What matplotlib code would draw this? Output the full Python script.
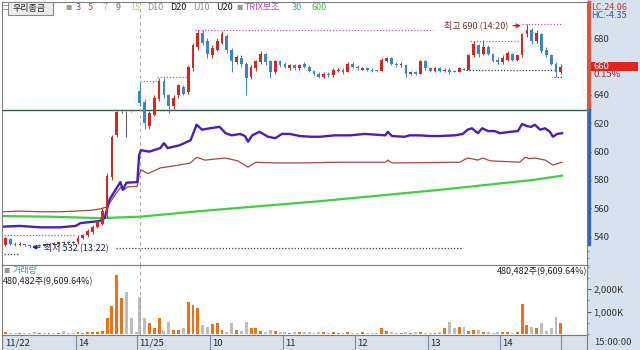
import matplotlib
matplotlib.use("Agg")
import matplotlib.pyplot as plt
import matplotlib.transforms as mtrans
from matplotlib.lines import Line2D
from matplotlib.patches import Rectangle
from matplotlib.ticker import MultipleLocator
import numpy as np

plt.rcParams['font.family'] = ['Noto Sans CJK KR', 'DejaVu Sans']

W, H = 640, 350


def t1(h, m):   # 11/22 장중 분 (13:00 = 0)
    return (h - 13) * 60 + m


def t2(h, m):   # 11/25 장중 분 (11/22 뒤에 이어붙임)
    return 111 + (h - 9) * 60 + m


def fx(px):
    return px / W


def fy(py):
    return 1 - py / H


# ---- 4분봉 : 11/22 (13:00 ~) ----
d1_open = [534, 538, 535, 534, 535, 534, 533, 533, 534, 534,
           535, 535, 536, 536, 536, 536, 539, 541, 543, 547,
           549, 556, 582, 612, 629, 629, 629, 629]
d1_high = [540, 539, 536, 536, 535, 534, 534, 535, 535, 535,
           536, 536, 537, 537, 537, 541, 542, 545, 548, 552,
           560, 585, 612, 629, 629, 629, 629, 629]
d1_low = [533, 534, 533, 533, 533, 532, 532, 533, 533, 533,
          534, 534, 535, 535, 535, 535, 538, 540, 542, 546,
          548, 553, 580, 610, 627, 610, 628, 629]
d1_close = [539, 535, 534, 535, 534, 533, 533, 534, 534, 535,
            535, 536, 536, 536, 536, 539, 541, 544, 547, 551,
            558, 583, 610, 628, 629, 629, 629, 629]

# ---- 4분봉 : 11/25 (09:00 ~) ----
d2_open = [643, 635, 618, 626, 637, 650, 640, 632, 640, 646,
           642, 659, 674, 684, 678, 668, 672, 677, 682, 672,
           663, 666, 662, 653, 659, 663, 669, 664, 656, 664,
           662, 659, 661, 659, 662, 660, 657, 655, 653, 655,
           654, 657, 658, 656, 662, 660, 658, 659, 658, 658,
           657, 664, 666, 662, 661, 661, 655, 656, 655, 664,
           659, 657, 659, 657, 658, 657, 656, 658, 658, 668,
           675, 669, 674, 669, 665, 663, 665, 669, 665, 668,
           683, 686, 678, 683, 672, 668, 662, 656]
d2_high = [649, 637, 629, 640, 652, 652, 641, 640, 648, 647,
           661, 677, 686, 686, 680, 675, 680, 685, 683, 673,
           668, 668, 663, 661, 665, 671, 670, 665, 665, 665,
           663, 662, 662, 662, 663, 661, 658, 656, 656, 656,
           659, 659, 659, 663, 663, 661, 660, 660, 659, 658,
           666, 667, 667, 663, 663, 662, 657, 657, 665, 665,
           660, 660, 660, 659, 659, 658, 660, 659, 669, 678,
           676, 679, 675, 670, 667, 668, 671, 670, 669, 684,
           690, 687, 686, 684, 674, 669, 663, 662]
d2_low = [632, 616, 616, 625, 636, 638, 627, 630, 638, 640,
          641, 657, 672, 675, 666, 666, 671, 676, 670, 656,
          662, 660, 640, 651, 657, 662, 661, 652, 655, 660,
          659, 658, 658, 658, 659, 656, 654, 652, 652, 653,
          653, 656, 655, 656, 659, 658, 658, 657, 656, 656,
          657, 663, 661, 660, 660, 653, 654, 654, 655, 658,
          656, 656, 656, 656, 655, 656, 656, 658, 658, 667,
          667, 668, 668, 663, 662, 662, 664, 664, 664, 667,
          681, 676, 677, 670, 667, 661, 653, 655]
d2_close = [634, 620, 627, 638, 650, 640, 632, 638, 647, 641,
            660, 675, 684, 677, 669, 673, 678, 683, 672, 664,
            667, 662, 652, 660, 664, 669, 663, 656, 664, 661,
            660, 661, 659, 661, 660, 657, 655, 653, 655, 654,
            658, 658, 656, 662, 660, 659, 659, 658, 657, 657,
            665, 666, 662, 661, 662, 655, 656, 655, 664, 659,
            657, 659, 657, 658, 656, 656, 659, 658, 668, 676,
            669, 674, 669, 664, 663, 666, 670, 665, 668, 683,
            686, 678, 684, 671, 668, 662, 656, 660]

# 거래량 (천주)
d1_vol = [90, 40, 30, 50, 40, 60, 80, 40, 30, 50,
          40, 60, 130, 40, 50, 70, 60, 90, 80, 110,
          150, 700, 1250, 2630, 1600, 1870, 700, 100]
d2_vol = [1650, 700, 470, 250, 700, 150, 550, 180, 180, 250,
          1450, 1300, 1150, 400, 330, 450, 470, 180, 100, 500,
          180, 150, 550, 250, 250, 150, 100, 180, 130, 80,
          70, 60, 90, 70, 80, 100, 60, 70, 80, 60,
          90, 60, 50, 80, 60, 50, 70, 60, 50, 60,
          270, 120, 80, 60, 50, 90, 60, 70, 100, 60,
          50, 60, 70, 250, 550, 250, 300, 300, 150, 200,
          200, 100, 80, 60, 70, 90, 80, 60, 70, 1340,
          400, 300, 250, 500, 150, 250, 750, 470]

# TRIX 보조선 (분, 값)
trix_main = [(0, 547), (14, 547.5), (31, 546.5), (47, 546.5), (60, 547.5), (64, 549.5),
             (80, 551), (84, 553), (88, 566), (93, 573), (97, 578.5), (99, 573),
             (102, 578), (111, 578.5), (112.5, 597.5), (114, 601), (121, 600), (130, 602.5),
             (133, 606), (136, 602.5), (146, 604.5), (155, 608), (160, 619), (164.5, 615.5),
             (171, 616.5), (179, 617.5), (184, 613), (189, 611.5), (196, 612.5), (200, 611),
             (202.5, 607), (206, 611.5), (212, 614), (219, 610.5), (225, 609.5), (230.5, 612.5),
             (237, 612.5), (245.5, 611), (254, 610.5), (262, 610.5), (274, 611.5), (287, 611.5),
             (299, 612.5), (316, 611.5), (318, 614), (321.5, 611), (332, 610.5), (336, 611.5),
             (344.5, 611.5), (353, 611), (361, 611), (373.5, 611.5), (380, 612.5), (384, 615.5),
             (387.5, 616.5), (392.5, 613), (396, 616.5), (401, 614.5), (406.5, 614.5), (410.5, 613),
             (419, 614), (425.5, 614.5), (429, 619.5), (433, 618), (436.5, 617.5), (439.5, 619),
             (444, 615.5), (448, 616.5), (452, 614), (454.5, 610.5), (458, 612.5), (462, 613)]
trix_sig = [(0, 557.5), (14, 558), (31, 557.5), (47, 557.5), (60, 558), (72, 558.5),
            (80, 559.5), (86, 561), (90, 566), (93.5, 570.5), (97, 574.5), (100, 573),
            (103, 575), (111, 575.5), (112.5, 583.5), (114, 587), (120, 584.5), (130, 588.5),
            (142, 590), (155, 592), (160, 596), (167, 594), (183.5, 595.5), (194, 593.5),
            (202.5, 589), (209, 592.5), (225, 592), (245.5, 592), (278.5, 592.5), (316, 592.5),
            (318, 594), (321.5, 592), (377.5, 592.5), (384, 595.5), (392.5, 594), (396.5, 595.5),
            (402.5, 593.5), (427, 592.5), (431.5, 596), (435.5, 595), (439.5, 595.5), (448, 594),
            (454.5, 590.5), (462, 592.5)]
trix_long = [(0, 554.5), (39, 554), (80, 553), (113, 554), (163, 558), (262, 565),
             (361, 573), (438, 580), (462, 583)]

base_price = 629.4
last_price = 660
hour_pos = [t1(13, 0), t1(14, 0), t2(9, 0), t2(10, 0), t2(11, 0), t2(12, 0), t2(13, 0), t2(14, 0)]
hour_lab = ['11/22', '14', '11/25', '10', '11', '12', '13', '14']
session_end = t2(14, 50)

RED = '#d8261c'
BLUE = '#3a86c8'
ORANGE = '#f07018'
GRAY = '#bdbdbd'
PANEL = '#d7e2ee'

o = np.array(d1_open + d2_open, float)
hi = np.array(d1_high + d2_high, float)
lo = np.array(d1_low + d2_low, float)
c = np.array(d1_close + d2_close, float)
vol = np.array(d1_vol + d2_vol, float)
x = np.concatenate([t1(13, 0) + 4 * np.arange(len(d1_open)) + 2,
                    t2(9, 0) + 4 * np.arange(len(d2_open)) + 2])

fig = plt.figure(figsize=(6.4, 3.5), dpi=100)
fig.add_artist(Rectangle((fx(587), 0), 1 - fx(587), 1, transform=fig.transFigure,
                         facecolor=PANEL, edgecolor='none', zorder=-1))

XL = ((2 - 3) / 1.21, (587 - 3) / 1.21)

# ---------- 가격 ----------
ax = fig.add_axes([fx(2), fy(265), fx(587) - fx(2), fy(2) - fy(265)])
ax.set_xlim(XL)
ax.set_ylim(519.9, 705.7)
for s in ax.spines.values():
    s.set_color('#808080')
    s.set_linewidth(0.8)
ax.set_xticks([])
ax.yaxis.tick_right()
ax.set_yticks([540, 560, 580, 600, 620, 640, 680])
ax.yaxis.set_minor_locator(MultipleLocator(5))
ax.tick_params(axis='y', which='major', length=3, width=0.7, color='#555555',
               pad=1.5, labelsize=6.8, labelcolor='#333333')
ax.tick_params(axis='y', which='minor', length=1.5, width=0.6, color='#777777')

ax.axhline(base_price, color='#2d5a4b', lw=1, zorder=1)
ax.axvline(t2(9, 2), color='#a8a8a8', lw=0.8, ls=(0, (3, 3)), zorder=1)

tm, vm = zip(*trix_main)
ts, vs = zip(*trix_sig)
tl, vl = zip(*trix_long)
ax.plot(tl, vl, color='#3fd03f', lw=1.6, zorder=2)
ax.plot(ts, vs, color='#a5473f', lw=0.9, zorder=2)
ax.plot(tm, vm, color='#4a1fb8', lw=1.7, zorder=2)

up = c > o
dn = c < o
ccol = np.where(up, RED, np.where(dn, BLUE, '#555555'))
ax.vlines(x, lo, hi, colors=ccol, lw=0.7, zorder=3)
ax.bar(x, np.maximum(np.abs(c - o), 0.8), width=2.3, bottom=np.minimum(o, c) - (~(up | dn)) * 0.4,
       color=ccol, lw=0, zorder=3)

# 고가/저가 추적선
pink = '#c24ec2'
dark = '#404040'
track = [((t1(12, 58), t1(14, 0)), 541, pink),
         ((t1(12, 58), t1(13, 12)), 528, dark),
         ((t1(14, 33), t2(13, 29)), 532, dark),
         ((t2(9, 2), t2(9, 16)), 650, pink),
         ((t2(9, 16), t2(9, 42)), 652.5, pink),
         ((t2(9, 48), t2(13, 4)), 686, pink),
         ((t2(13, 35), t2(14, 16)), 678, pink),
         ((t2(14, 18), t2(14, 51)), 690, pink),
         ((t2(13, 32), t2(14, 44)), 658, dark),
         ((t2(14, 44), t2(14, 51)), 652.5, dark)]
for (xa, xb), yv, col in track:
    ax.plot([xa, xb], [yv, yv], ls=(0, (1, 1.5)), lw=0.9, color=col, zorder=2)

ax.annotate('최고 690 (14:20)', xy=(t2(14, 17), 689), xytext=(t2(14, 7), 689),
            ha='right', va='center', fontsize=6.5, color='#7a2a2a',
            arrowprops=dict(arrowstyle='-|>', color='#d02020', lw=0.9, mutation_scale=6,
                            shrinkA=1, shrinkB=0), zorder=5)
ax.annotate('최저 532 (13:22)', xy=(t1(13, 24), 532.5), xytext=(t1(13, 34), 532.5),
            ha='left', va='center', fontsize=6.5, color='#1c1c5a',
            arrowprops=dict(arrowstyle='-|>', color='#2020c8', lw=0.9, mutation_scale=6,
                            shrinkA=1, shrinkB=0), zorder=5)

# ---------- 거래량 ----------
axv = fig.add_axes([fx(2), fy(335), fx(587) - fx(2), fy(265) - fy(335)])
axv.set_xlim(XL)
axv.set_ylim(-45, 3080)
for s in axv.spines.values():
    s.set_color('#808080')
    s.set_linewidth(0.8)
axv.set_xticks([])
axv.yaxis.tick_right()
axv.set_yticks([1000, 2000])
axv.set_yticklabels(['1,000K', '2,000K'])
axv.yaxis.set_minor_locator(MultipleLocator(500))
axv.tick_params(axis='y', which='major', length=3, width=0.7, color='#555555',
                pad=1.5, labelsize=6.8, labelcolor='#333333')
axv.tick_params(axis='y', which='minor', length=1.5, width=0.6, color='#777777')
prev = np.r_[o[0], c[:-1]]
vup = up | (~dn & (c > prev))
axv.bar(x, vol, width=2.4, color=np.where(vup, ORANGE, GRAY), lw=0)
axv.axvline(t2(9, 2), color='#a8a8a8', lw=0.8, ls=(0, (3, 3)))

# ---------- 시간축 ----------
axd = fig.add_axes([fx(2), 0, fx(587) - fx(2), fy(335)])
axd.set_facecolor(PANEL)
axd.set_xlim(XL)
axd.set_ylim(0, 1)
axd.set_xticks([])
axd.set_yticks([])
for s in axd.spines.values():
    s.set_color('#7a7a7a')
    s.set_linewidth(0.8)
for p, lab in zip(hour_pos, hour_lab):
    if p > XL[0] + 1:
        axd.axvline(p, color='#7d8ba0', lw=0.8)
    axd.text(max(p, XL[0]) + 1.8, 0.45, lab, va='center', ha='left', fontsize=6.8, color='#222222')
axd.axvline(session_end, color='#7d8ba0', lw=0.8)
fig.text(fx(594), fy(342.5), '15:00:00', fontsize=6.8, color='#333333', va='center')

# ---------- 상단 범례 ----------
fig.add_artist(Rectangle((fx(8), fy(15)), 45 / W, 13 / H, transform=fig.transFigure,
                         facecolor='#ececec', edgecolor='#8a8a8a', lw=0.8, zorder=3))
fig.text(fx(2), fy(8), '□', fontsize=4.5, color='#777777', va='center')
fig.text(fx(13), fy(8), '우리종금', fontsize=6.5, color='#222222', va='center', zorder=4)
legend_items = [(65, '■', '#9a9a9a'), (76, '3', '#5a4a9a'), (88, '5', '#c04848'),
                (103, '7', '#b0b0b0'), (116, '9', '#3f8f3f'), (130, '15', '#d6c64e'),
                (147, 'D10', '#8f8f8f'), (170, 'D20', '#111111'), (193, 'U10', '#8f8f8f'),
                (216, 'U20', '#111111'), (236, '■', '#9a9a9a'), (245, 'TRIX보조', '#b848b8'),
                (292, '30', '#3f9f9f'), (311, '600', '#3fc03f')]
for px, txt, col in legend_items:
    fs = 4.5 if txt == '■' else 6.5
    fig.text(fx(px), fy(8), txt, fontsize=fs, color=col, va='center')

# ---------- 오른쪽 패널 ----------
fig.text(fx(591), fy(7), 'LC:24.06', fontsize=6.5, color='#b8402c', va='center')
fig.text(fx(591), fy(16), 'HC:-4.35', fontsize=6.5, color='#34549c', va='center')
blend = mtrans.blended_transform_factory(fig.transFigure, ax.transData)
fig.add_artist(Line2D([fx(588.5)] * 2, [base_price, 705.7], transform=blend,
                      color='#d9543a', lw=2.4))
fig.add_artist(Line2D([fx(588.5)] * 2, [535, base_price], transform=blend,
                      color='#3a64b4', lw=2.4))
fig.add_artist(Rectangle((fx(591), last_price - 3.2), fx(638) - fx(591), 6.4,
                         transform=blend, facecolor='#e42222', edgecolor='none', zorder=4))
fig.text(fx(593), last_price, '660', transform=blend, fontsize=6.8, color='white',
         va='center', zorder=5)
fig.text(fx(593), last_price - 5.8, '0.15%', transform=blend, fontsize=6.8,
         color='#8a3030', va='center')

# ---------- 거래량 라벨 ----------
fig.text(fx(3), fy(271), '■', fontsize=4.5, color='#9a9a9a', va='center')
fig.text(fx(13), fy(271), '거래량', fontsize=6.5, color='#3f9a9a', va='center')
fig.text(fx(3), fy(282), '480,482주(9,609.64%)', fontsize=6.5, color='#222222', va='center')
fig.text(fx(587), fy(272), '480,482주(9,609.64%)', fontsize=6.5, color='#222222',
         va='center', ha='right')

fig.savefig('out.png', dpi=100)
